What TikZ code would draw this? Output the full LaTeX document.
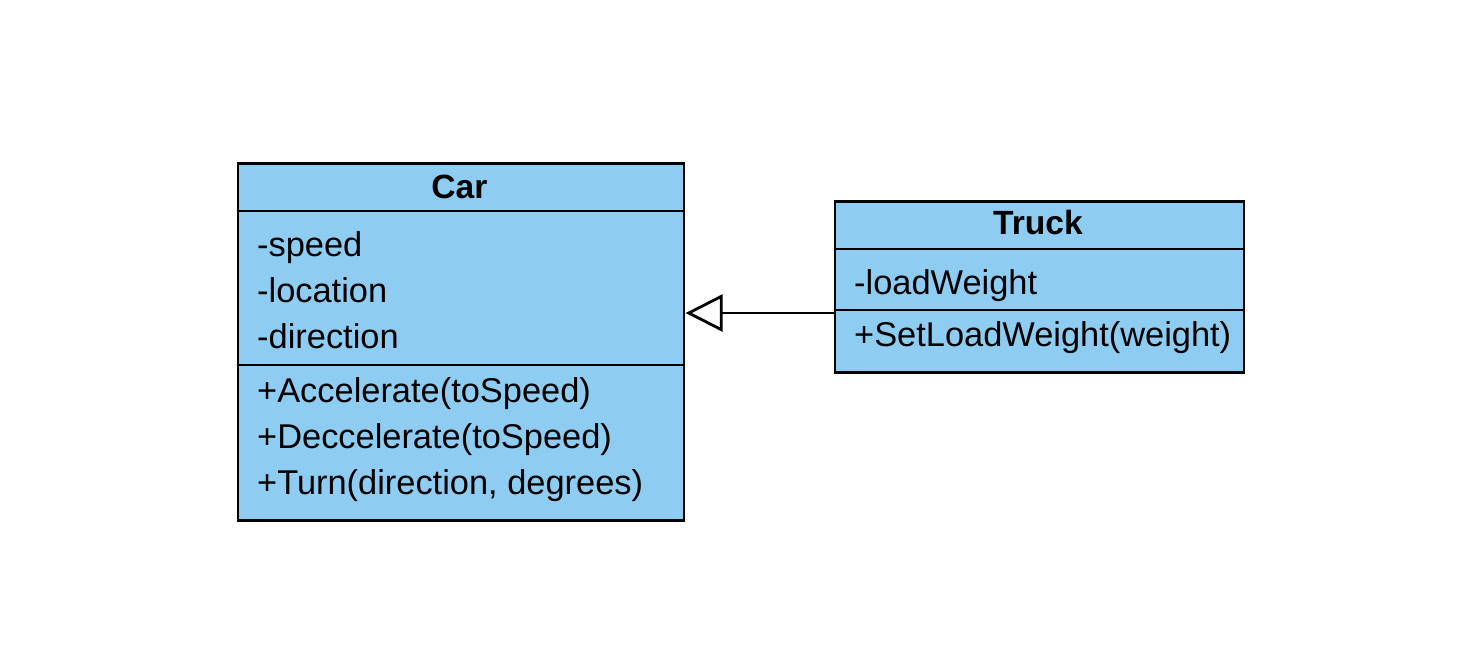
\documentclass[tikz,border=0pt]{standalone}
\usepackage{fontspec}
\setmainfont{Liberation Sans}
\usetikzlibrary{arrows.meta}
\definecolor{umlfill}{RGB}{143,204,242}
\tikzset{
  classbox/.style={draw=black, fill=umlfill, line width=2.6pt, rectangle, inner sep=0pt, anchor=north west},
  divider/.style={draw=black, line width=2.6pt},
  member/.style={anchor=base west, inner sep=0pt, font=\fontsize{34.4}{40}\selectfont},
  title/.style={anchor=base, inner sep=0pt, font=\fontsize{33.6}{40}\selectfont\bfseries},
  inherit/.style={draw=black, line width=2.8pt, -{Triangle[open, length=37pt, width=37pt, line width=2.8pt]}}
}
\begin{document}
\begin{tikzpicture}[x=1pt, y=-1pt]
\useasboundingbox (0,0) rectangle (1468,664);
% Car
\node[classbox, minimum width=446pt, minimum height=357pt] (car) at (236.5,162) {};
\draw[divider] (car.west |- 0,211) -- (car.east |- 0,211);
\draw[divider] (car.west |- 0,365) -- (car.east |- 0,365);
\node[title] (cartitle) at (459.5,198) {Car};
\node[member] (a1) at (257,256) {-speed};
\node[member] (a2) at (257,302) {-location};
\node[member] (a3) at (257,348) {-direction};
\node[member] (m1) at (257,402) {+Accelerate(toSpeed)};
\node[member] (m2) at (257,448) {+Deccelerate(toSpeed)};
\node[member] (m3) at (257,494) {+Turn(direction, degrees)};
% Truck
\node[classbox, minimum width=409pt, minimum height=171pt] (truck) at (833.5,200) {};
\draw[divider] (truck.west |- 0,249) -- (truck.east |- 0,249);
\draw[divider] (truck.west |- 0,310) -- (truck.east |- 0,310);
\node[title] (trucktitle) at (1038,234) {Truck};
\node[member] (t1) at (854,294) {-loadWeight};
\node[member] (t2) at (854,346) {+SetLoadWeight(weight)};
% inheritance
\coordinate (from) at (truck.west |- 0,313);
\coordinate (to) at (car.east |- 0,313);
\draw[inherit] (from) -- ([xshift=0.5pt]to);
\end{tikzpicture}
\end{document}
